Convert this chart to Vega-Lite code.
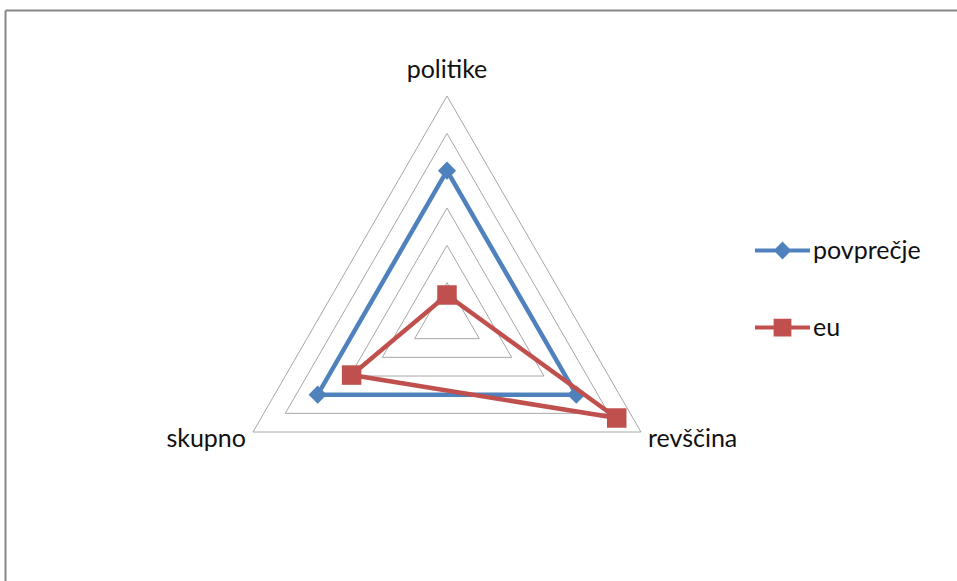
{
  "$schema": "https://vega.github.io/schema/vega-lite/v6.json",
  "width": 952,
  "height": 571,
  "autosize": {"type": "none"},
  "padding": {"left": 5, "top": 10, "right": 0, "bottom": 0},
  "background": "white",
  "config": {
    "view": {"stroke": null},
    "font": "Lato",
    "axis": {"domainColor": "#878787", "domainWidth": 2, "ticks": false, "labels": false, "grid": false}
  },
  "datasets": {
    "series": [
      {"series": "povprečje", "axis": "politike", "value": 4.0},
      {"series": "povprečje", "axis": "revščina", "value": 4.0},
      {"series": "povprečje", "axis": "skupno", "value": 4.0},
      {"series": "eu", "axis": "politike", "value": 0.67},
      {"series": "eu", "axis": "revščina", "value": 5.25},
      {"series": "eu", "axis": "skupno", "value": 2.95}
    ],
    "grid": [
      {"level": 1, "axis": ["politike", "revščina", "skupno"]},
      {"level": 2, "axis": ["politike", "revščina", "skupno"]},
      {"level": 3, "axis": ["politike", "revščina", "skupno"]},
      {"level": 4, "axis": ["politike", "revščina", "skupno"]},
      {"level": 5, "axis": ["politike", "revščina", "skupno"]},
      {"level": 6, "axis": ["politike", "revščina", "skupno"]}
    ]
  },
  "encoding": {
    "x": {"field": "px", "type": "quantitative", "scale": {"domain": [-11.839, 13.661], "nice": false, "zero": false}, "axis": {"orient": "top", "title": null}},
    "y": {"field": "py", "type": "quantitative", "scale": {"domain": [-6.991, 8.304], "nice": false, "zero": false}, "axis": {"orient": "left", "title": null}}
  },
  "layer": [
    {
      "data": {"name": "grid"},
      "transform": [
        {"flatten": ["axis"]},
        {"calculate": "indexof(['politike','revščina','skupno'], datum.axis)", "as": "k"},
        {"calculate": "datum.level * cos(PI/2 - datum.k*2*PI/3)", "as": "px"},
        {"calculate": "datum.level * sin(PI/2 - datum.k*2*PI/3)", "as": "py"}
      ],
      "mark": {"type": "line", "interpolate": "linear-closed", "stroke": "#a6a6a6", "strokeWidth": 1},
      "encoding": {"detail": {"field": "level", "type": "nominal"}, "order": {"field": "k", "type": "quantitative"}}
    },
    {
      "data": {"name": "series"},
      "transform": [
        {"filter": "datum.series === 'povprečje'"},
        {"calculate": "indexof(['politike','revščina','skupno'], datum.axis)", "as": "k"},
        {"calculate": "datum.value * cos(PI/2 - datum.k*2*PI/3)", "as": "px"},
        {"calculate": "datum.value * sin(PI/2 - datum.k*2*PI/3)", "as": "py"}
      ],
      "mark": {"type": "line", "interpolate": "linear-closed", "strokeWidth": 4.5},
      "encoding": {
        "order": {"field": "k", "type": "quantitative"},
        "color": {
          "field": "series", "type": "nominal",
          "scale": {"domain": ["povprečje", "eu"], "range": ["#4f81bd", "#c0504d"]},
          "legend": {
            "orient": "none", "legendX": 748, "legendY": 211, "title": null, "padding": 0,
            "symbolSize": 3025, "symbolStrokeWidth": 4,
            "labelFont": "Lato", "labelFontSize": 25, "labelColor": "#111", "labelOffset": 1,
            "rowPadding": 33,
            "encoding": {
              "symbols": {
                "shape": {"value": {"expr": "datum.value === 'eu' ? 'M-1,0H1M-0.25,-0.25H0.25V0.25H-0.25Z' : 'M-1,0H1M-0.22,0L0,-0.22L0.22,0L0,0.22Z'"}},
                "fill": {"value": {"expr": "scale('color', datum.value)"}},
                "stroke": {"value": {"expr": "scale('color', datum.value)"}},
                "strokeWidth": {"value": 4},
                "opacity": {"value": 1},
                "fillOpacity": {"value": 1}
              }
            }
          }
        }
      }
    },
    {
      "data": {"name": "series"},
      "transform": [
        {"filter": "datum.series === 'povprečje'"},
        {"calculate": "indexof(['politike','revščina','skupno'], datum.axis)", "as": "k"},
        {"calculate": "datum.value * cos(PI/2 - datum.k*2*PI/3)", "as": "px"},
        {"calculate": "datum.value * sin(PI/2 - datum.k*2*PI/3)", "as": "py"}
      ],
      "mark": {"type": "point", "shape": "diamond", "filled": true, "size": 330, "opacity": 1},
      "encoding": {
        "color": {"field": "series", "type": "nominal", "scale": {"domain": ["povprečje", "eu"], "range": ["#4f81bd", "#c0504d"]}}
      }
    },
    {
      "data": {"name": "series"},
      "transform": [
        {"filter": "datum.series === 'eu'"},
        {"calculate": "indexof(['politike','revščina','skupno'], datum.axis)", "as": "k"},
        {"calculate": "datum.value * cos(PI/2 - datum.k*2*PI/3)", "as": "px"},
        {"calculate": "datum.value * sin(PI/2 - datum.k*2*PI/3)", "as": "py"}
      ],
      "mark": {"type": "line", "interpolate": "linear-closed", "strokeWidth": 4.5},
      "encoding": {
        "order": {"field": "k", "type": "quantitative"},
        "color": {"field": "series", "type": "nominal", "scale": {"domain": ["povprečje", "eu"], "range": ["#4f81bd", "#c0504d"]}}
      }
    },
    {
      "data": {"name": "series"},
      "transform": [
        {"filter": "datum.series === 'eu'"},
        {"calculate": "indexof(['politike','revščina','skupno'], datum.axis)", "as": "k"},
        {"calculate": "datum.value * cos(PI/2 - datum.k*2*PI/3)", "as": "px"},
        {"calculate": "datum.value * sin(PI/2 - datum.k*2*PI/3)", "as": "py"}
      ],
      "mark": {"type": "point", "shape": "square", "filled": true, "size": 380, "opacity": 1},
      "encoding": {
        "color": {"field": "series", "type": "nominal", "scale": {"domain": ["povprečje", "eu"], "range": ["#4f81bd", "#c0504d"]}}
      }
    },
    {
      "data": {"name": "grid"},
      "transform": [
        {"flatten": ["axis"]},
        {"calculate": "indexof(['politike','revščina','skupno'], datum.axis)", "as": "k"},
        {"calculate": "datum.level * cos(PI/2 - datum.k*2*PI/3)", "as": "px"},
        {"calculate": "datum.level * sin(PI/2 - datum.k*2*PI/3)", "as": "py"},
        {"filter": "datum.level === 6 && datum.axis === 'politike'"}
      ],
      "mark": {"type": "text", "align": "center", "baseline": "alphabetic", "dy": -18, "fontSize": 25, "font": "Lato", "color": "#111"},
      "encoding": {"text": {"field": "axis", "type": "nominal"}}
    },
    {
      "data": {"name": "grid"},
      "transform": [
        {"flatten": ["axis"]},
        {"calculate": "indexof(['politike','revščina','skupno'], datum.axis)", "as": "k"},
        {"calculate": "datum.level * cos(PI/2 - datum.k*2*PI/3)", "as": "px"},
        {"calculate": "datum.level * sin(PI/2 - datum.k*2*PI/3)", "as": "py"},
        {"filter": "datum.level === 6 && datum.axis === 'revščina'"}
      ],
      "mark": {"type": "text", "align": "left", "baseline": "alphabetic", "dx": 7, "dy": 15, "fontSize": 25, "font": "Lato", "color": "#111"},
      "encoding": {"text": {"field": "axis", "type": "nominal"}}
    },
    {
      "data": {"name": "grid"},
      "transform": [
        {"flatten": ["axis"]},
        {"calculate": "indexof(['politike','revščina','skupno'], datum.axis)", "as": "k"},
        {"calculate": "datum.level * cos(PI/2 - datum.k*2*PI/3)", "as": "px"},
        {"calculate": "datum.level * sin(PI/2 - datum.k*2*PI/3)", "as": "py"},
        {"filter": "datum.level === 6 && datum.axis === 'skupno'"}
      ],
      "mark": {"type": "text", "align": "right", "baseline": "alphabetic", "dx": -7, "dy": 15, "fontSize": 25, "font": "Lato", "color": "#111"},
      "encoding": {"text": {"field": "axis", "type": "nominal"}}
    }
  ]
}
